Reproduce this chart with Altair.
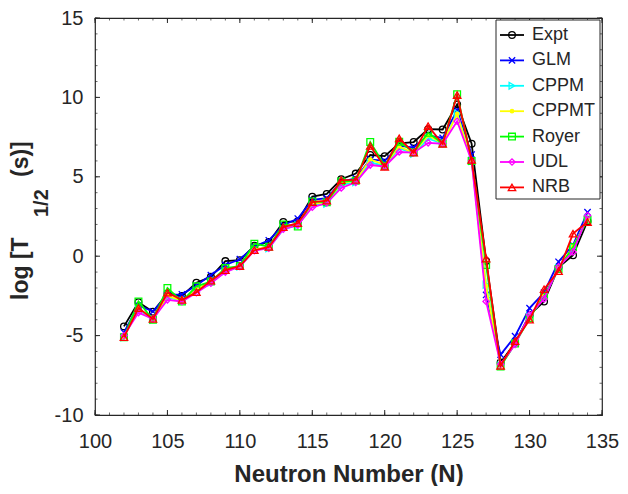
import altair as alt
import pandas as pd

N = list(range(102, 135))
models = ["Expt", "GLM", "CPPM", "CPPMT", "Royer", "UDL", "NRB"]

Expt = [-4.42, -2.9, -3.5, -2.35, -2.5, -1.67, -1.3, -0.31, -0.25, 0.65, 0.9,
        2.15, 2.2, 3.75, 3.92, 4.85, 5.2, 6.37, 6.3, 7.1, 7.19, 8.0, 7.98,
        9.56, 7.08, -0.3, -6.7, -5.45, -3.7, -2.85, -0.7, 0.06, 2.2]
GLM = [-4.8, -3.1, -3.48, -2.45, -2.4, -1.85, -1.19, -0.55, -0.19, 0.6, 1.0,
       1.95, 2.37, 3.55, 3.65, 4.7, 4.9, 6.1, 6.0, 6.95, 6.85, 7.6, 7.45,
       9.2, 6.4, -2.44, -6.2, -5.04, -3.27, -2.3, -0.35, 0.7, 2.77]
CPPM = [-5.1, -3.35, -4.0, -2.6, -2.8, -2.2, -1.65, -0.95, -0.65, 0.4, 0.5,
        1.7, 1.95, 3.2, 3.3, 4.5, 4.65, 5.9, 5.7, 6.8, 6.45, 7.4, 7.1,
        9.0, 6.0, -1.8, -6.9, -5.5, -3.8, -2.6, -0.75, 0.5, 2.4]
CPPMT = [-5.1, -3.25, -4.0, -2.5, -2.8, -2.1, -1.6, -0.85, -0.6, 0.45, 0.55,
         1.8, 2.0, 3.3, 3.4, 4.6, 4.75, 6.1, 5.75, 6.9, 6.5, 7.6, 7.1,
         8.96, 6.0, -1.9, -6.9, -5.45, -3.85, -2.5, -0.75, 0.6, 2.35]
Royer = [-5.1, -2.85, -4.0, -2.0, -2.85, -1.9, -1.6, -0.75, -0.62, 0.79, 0.6,
         2.0, 1.87, 3.45, 3.4, 4.7, 4.75, 7.19, 5.7, 7.2, 6.55, 7.77, 7.1,
         10.2, 6.0, -0.56, -6.95, -5.5, -3.9, -2.5, -0.8, 0.58, 2.3]
UDL = [-5.0, -3.55, -3.95, -2.75, -2.85, -2.3, -1.7, -1.0, -0.65, 0.35, 0.5,
       1.7, 1.95, 3.08, 3.35, 4.3, 4.65, 5.74, 5.65, 6.56, 6.52, 7.14, 7.08,
       8.5, 6.0, -2.85, -6.8, -5.56, -3.69, -2.69, -0.67, 0.27, 2.56]
NRB = [-5.1, -3.27, -3.95, -2.3, -2.75, -2.27, -1.54, -0.875, -0.62, 0.375, 0.58,
       1.83, 2.08, 3.4, 3.5, 4.79, 4.8, 6.94, 5.63, 7.42, 6.52, 8.19, 7.08,
       10.15, 6.06, -0.15, -6.9, -5.35, -4.0, -2.08, -0.94, 1.42, 2.15]

series = [Expt, GLM, CPPM, CPPMT, Royer, UDL, NRB]
x_ticks = [100, 105, 110, 115, 120, 125, 130, 135]
y_ticks = [-10, -5, 0, 5, 10, 15]
x_minor = list(range(100, 136))
y_minor = list(range(-10, 16))

colors = ["#000000", "#0000ff", "#00ffff", "#ffff00", "#00ff00", "#ff00ff", "#ff0000"]
shapes = ["circle", "M-1,-1L1,1M-1,1L1,-1", "triangle-right", "circle",
          "square", "diamond", "triangle-up"]
filled = [False, False, False, True, False, False, False]
sizes = [45, 40, 45, 22, 45, 40, 55]

W, H = 507, 397
FONT = "Liberation Sans"
TXT = "#262626"

xscale = alt.Scale(domain=[100, 135], nice=False, zero=False)
yscale = alt.Scale(domain=[-10, 15], nice=False, zero=False)
xaxis = alt.Axis(values=x_ticks, title="Neutron Number (N)", ticks=False, domain=False,
                 grid=False, labelFontSize=20, labelPadding=16, titleFontSize=24,
                 titleFontWeight="bold", titlePadding=11, labelFlush=False,
                 labelExpr="datum.value")
yaxis = alt.Axis(values=y_ticks, title="", ticks=False, domain=False, grid=False,
                 labelFontSize=20, labelPadding=12, labelFlush=False,
                 labelExpr="datum.value")


def X(f):
    return alt.X(f, type="quantitative", scale=xscale, axis=xaxis)


def Y(f):
    return alt.Y(f, type="quantitative", scale=yscale, axis=yaxis)


one = pd.DataFrame({"k": [0]})
layers = []

# tick marks (inside)
for vals, ln, sw in [(x_minor, 2.5, 0.7), (x_ticks, 5, 1)]:
    d = pd.DataFrame({"v": vals})
    layers.append(alt.Chart(d).mark_rule(color=TXT, strokeWidth=sw).encode(
        x=X("v"), y=alt.value(H), y2=alt.value(H - ln)))
    layers.append(alt.Chart(d).mark_rule(color=TXT, strokeWidth=sw).encode(
        x=X("v"), y=alt.value(0), y2=alt.value(ln)))
for vals, ln, sw in [(y_minor, 2.5, 0.7), (y_ticks, 5, 1)]:
    d = pd.DataFrame({"v": vals})
    layers.append(alt.Chart(d).mark_rule(color=TXT, strokeWidth=sw).encode(
        y=Y("v"), x=alt.value(0), x2=alt.value(ln)))
    layers.append(alt.Chart(d).mark_rule(color=TXT, strokeWidth=sw).encode(
        y=Y("v"), x=alt.value(W), x2=alt.value(W - ln)))

# data series
for m, vals, c, s, f, sz in zip(models, series, colors, shapes, filled, sizes):
    d = pd.DataFrame({"N": N, "v": vals})
    layers.append(alt.Chart(d).mark_line(color=c, strokeWidth=1.8).encode(
        x=X("N"), y=Y("v")))
    layers.append(alt.Chart(d).mark_point(shape=s, filled=f, color=c, size=sz,
                                          strokeWidth=1.3, opacity=1).encode(
        x=X("N"), y=Y("v")))

# legend
layers.append(alt.Chart(one).mark_rect(fill="white", stroke=TXT, strokeWidth=1).encode(
    x=alt.value(401), x2=alt.value(505), y=alt.value(2), y2=alt.value(181)))
for i, (m, c, s, f, sz) in enumerate(zip(models, colors, shapes, filled, sizes)):
    yy = 17 + i * 25.4
    lab = pd.DataFrame({"label": [m]})
    layers.append(alt.Chart(lab).mark_rule(color=c, strokeWidth=1.8).encode(
        x=alt.value(405), x2=alt.value(429), y=alt.value(yy)))
    layers.append(alt.Chart(lab).mark_point(shape=s, filled=f, color=c, size=sz,
                                            strokeWidth=1.3, opacity=1).encode(
        x=alt.value(417), y=alt.value(yy)))
    layers.append(alt.Chart(lab).mark_text(align="left", baseline="middle", font=FONT,
                                           fontSize=18, color=TXT).encode(
        x=alt.value(437), y=alt.value(yy), text="label:N"))

# y title with subscript
for txt, xx, yy, fs in [("log [T", -74, 282, 23), ("1/2", -53, 199, 20), ("(s)]", -74, 159, 23)]:
    layers.append(alt.Chart(one).mark_text(text=txt, angle=270, align="left",
                                           baseline="middle", font=FONT, fontSize=fs,
                                           fontWeight="bold", color=TXT).encode(
        x=alt.value(xx), y=alt.value(yy)))

chart = alt.layer(*layers).properties(
    width=W, height=H,
    autosize=alt.AutoSizeParams(type="none"),
    padding={"left": 87, "top": 10, "right": 18, "bottom": 71},
    background="white",
).configure_axis(
    labelFont=FONT, titleFont=FONT, labelColor=TXT, titleColor=TXT
).configure_view(stroke=TXT, strokeWidth=1.2)

chart.save("out.html", embed_options={"renderer": "svg", "actions": False})
